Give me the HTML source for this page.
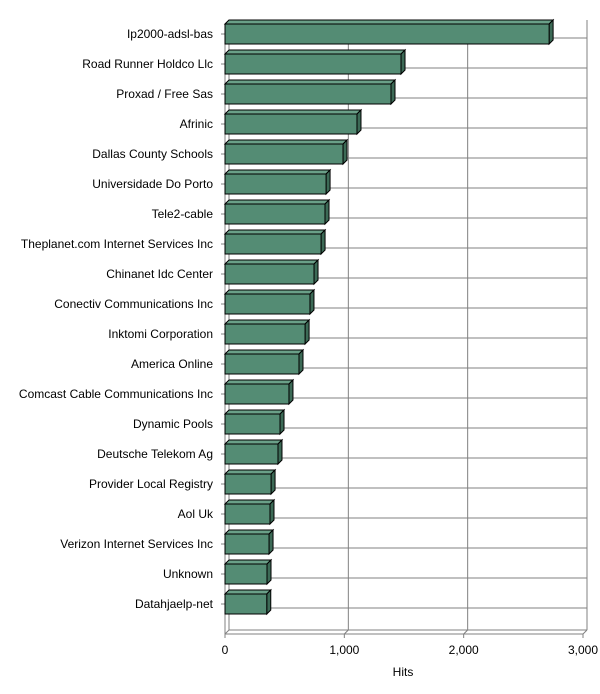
<!DOCTYPE html>
<html><head><meta charset="utf-8"><style>body{margin:0;background:#fff}svg{display:block;font-family:"Liberation Sans",Arial,sans-serif}</style></head>
<body>
<svg id="chart" width="600" height="694" xmlns="http://www.w3.org/2000/svg"></svg>
<script>
const categories=["Ip2000-adsl-bas","Road Runner Holdco Llc","Proxad / Free Sas","Afrinic","Dallas County Schools","Universidade Do Porto","Tele2-cable","Theplanet.com Internet Services Inc","Chinanet Idc Center","Conectiv Communications Inc","Inktomi Corporation","America Online","Comcast Cable Communications Inc","Dynamic Pools","Deutsche Telekom Ag","Provider Local Registry","Aol Uk","Verizon Internet Services Inc","Unknown","Datahjaelp-net"];
const hits=[2716,1475,1391,1106,989,847,838,805,746,712,671,620,536,461,444,386,377,369,352,350];
const tickValues=[0,1000,2000,3000];
const tickLabels=["0","1,000","2,000","3,000"];
const svgEl=document.getElementById('chart');const NS='http://www.w3.org/2000/svg';
function el(t,a,p){const e=document.createElementNS(NS,t);for(const k in a)e.setAttribute(k,a[k]);(p||svgEl).appendChild(e);return e;}
const x0=225,xMax=3000,xw=358,dp=4,plotTop=20,plotBottom=634;
const xs=v=>x0+v/xMax*xw;
const band=30,firstC=34;const ys=i=>firstC+i*band;
const wall=el('g',{});


tickValues.forEach(v=>{const l=el('line',{x1:xs(v)+dp,x2:xs(v)+dp,y1:plotTop,y2:plotBottom-dp,stroke:'#808080'},wall);


el('line',{x1:xs(v),x2:xs(v)+dp,y1:plotBottom,y2:plotBottom-dp,stroke:'#808080'},wall);});
categories.forEach((c,i)=>{const l=el('line',{x1:x0+dp,x2:xs(xMax)+dp,y1:ys(i)+dp,y2:ys(i)+dp,stroke:'#808080'},wall);

});
el('line',{x1:x0+dp,x2:xs(xMax)+dp,y1:plotBottom-dp,y2:plotBottom-dp,stroke:'#808080'},wall);
el('line',{x1:x0,x2:x0+dp,y1:plotTop+dp,y2:plotTop,stroke:'#808080'},wall);
const ax=el('line',{x1:x0,x2:x0,y1:plotTop+dp,y2:plotBottom,stroke:'#808080'});


const bx=el('line',{x1:x0,x2:xs(xMax),y1:plotBottom,y2:plotBottom,stroke:'#808080'});


tickValues.forEach((v,i)=>{el('line',{x1:xs(v),x2:xs(v),y1:plotBottom,y2:plotBottom+4,stroke:'#808080'});
const t=el('text',{x:xs(v),y:plotBottom+20,'text-anchor':'middle','font-size':12,fill:'#000'});t.textContent=tickLabels[i];

});
const xt=el('text',{x:403,y:676,'text-anchor':'middle','font-size':12});xt.textContent='Hits';


categories.forEach((c,i)=>{const y=ys(i)-10,h=20,x1=xs(hits[i]);
el('line',{x1:x0-4,x2:x0,y1:ys(i),y2:ys(i),stroke:'#808080'});
const lb=el('text',{x:213,y:ys(i)+4,'text-anchor':'end','font-size':12});lb.textContent=c;


const g=el('g',{stroke:'#000','stroke-width':1});


el('polygon',{points:`${x0},${y} ${x0+dp},${y-dp} ${x1+dp},${y-dp} ${x1},${y}`,fill:'#6aa088'},g);
el('polygon',{points:`${x1},${y} ${x1+dp},${y-dp} ${x1+dp},${y+h-dp} ${x1},${y+h}`,fill:'#3c6a56'},g);
el('rect',{x:x0,y:y,width:x1-x0,height:h,fill:'#548c74'},g);});
</script>
</body></html>
